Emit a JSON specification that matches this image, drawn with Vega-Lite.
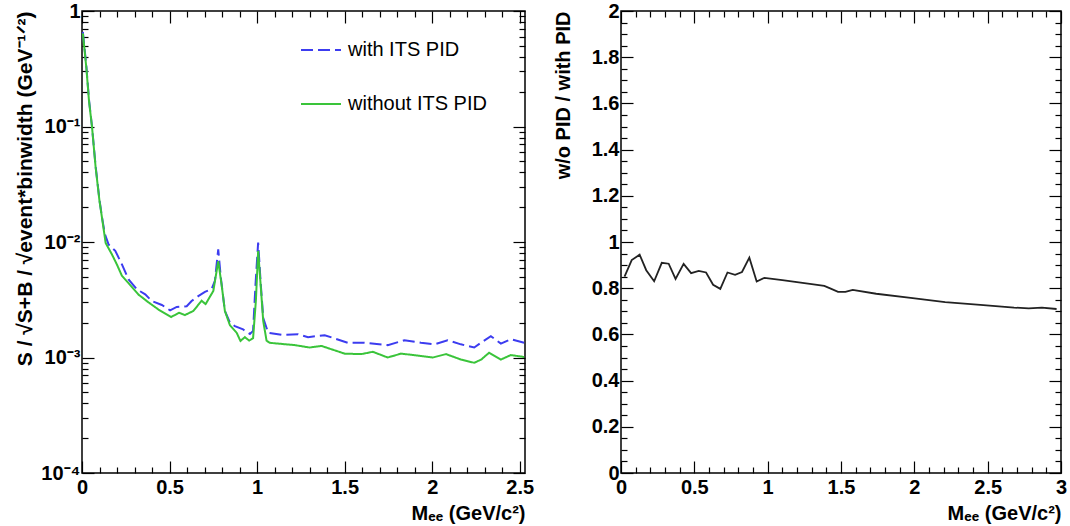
{
  "$schema": "https://vega.github.io/schema/vega-lite/v6.json",
  "padding": {"left": 14, "top": 0, "right": 5, "bottom": 0},
  "datasets": {
    "left": [
      {"m": 0.005, "v": 0.66, "series": "with ITS PID"},
      {"m": 0.025, "v": 0.33, "series": "with ITS PID"},
      {"m": 0.04, "v": 0.17, "series": "with ITS PID"},
      {"m": 0.057, "v": 0.1, "series": "with ITS PID"},
      {"m": 0.078, "v": 0.045, "series": "with ITS PID"},
      {"m": 0.1, "v": 0.023, "series": "with ITS PID"},
      {"m": 0.114, "v": 0.0165, "series": "with ITS PID"},
      {"m": 0.13, "v": 0.0118, "series": "with ITS PID"},
      {"m": 0.152, "v": 0.0095, "series": "with ITS PID"},
      {"m": 0.19, "v": 0.0084, "series": "with ITS PID"},
      {"m": 0.228, "v": 0.0064, "series": "with ITS PID"},
      {"m": 0.266, "v": 0.00475, "series": "with ITS PID"},
      {"m": 0.313, "v": 0.0039, "series": "with ITS PID"},
      {"m": 0.361, "v": 0.00352, "series": "with ITS PID"},
      {"m": 0.399, "v": 0.00308, "series": "with ITS PID"},
      {"m": 0.456, "v": 0.00285, "series": "with ITS PID"},
      {"m": 0.503, "v": 0.00256, "series": "with ITS PID"},
      {"m": 0.541, "v": 0.00274, "series": "with ITS PID"},
      {"m": 0.598, "v": 0.00278, "series": "with ITS PID"},
      {"m": 0.626, "v": 0.00308, "series": "with ITS PID"},
      {"m": 0.664, "v": 0.0034, "series": "with ITS PID"},
      {"m": 0.702, "v": 0.0037, "series": "with ITS PID"},
      {"m": 0.74, "v": 0.0039, "series": "with ITS PID"},
      {"m": 0.759, "v": 0.0046, "series": "with ITS PID"},
      {"m": 0.778, "v": 0.00865, "series": "with ITS PID"},
      {"m": 0.793, "v": 0.0049, "series": "with ITS PID"},
      {"m": 0.816, "v": 0.00253, "series": "with ITS PID"},
      {"m": 0.845, "v": 0.002, "series": "with ITS PID"},
      {"m": 0.873, "v": 0.00187, "series": "with ITS PID"},
      {"m": 0.92, "v": 0.00175, "series": "with ITS PID"},
      {"m": 0.959, "v": 0.0016, "series": "with ITS PID"},
      {"m": 0.977, "v": 0.0017, "series": "with ITS PID"},
      {"m": 0.991, "v": 0.0043, "series": "with ITS PID"},
      {"m": 1.006, "v": 0.0099, "series": "with ITS PID"},
      {"m": 1.021, "v": 0.0043, "series": "with ITS PID"},
      {"m": 1.035, "v": 0.0022, "series": "with ITS PID"},
      {"m": 1.063, "v": 0.00164, "series": "with ITS PID"},
      {"m": 1.139, "v": 0.00157, "series": "with ITS PID"},
      {"m": 1.234, "v": 0.00159, "series": "with ITS PID"},
      {"m": 1.291, "v": 0.0015, "series": "with ITS PID"},
      {"m": 1.386, "v": 0.00156, "series": "with ITS PID"},
      {"m": 1.519, "v": 0.00134, "series": "with ITS PID"},
      {"m": 1.613, "v": 0.00134, "series": "with ITS PID"},
      {"m": 1.746, "v": 0.00128, "series": "with ITS PID"},
      {"m": 1.841, "v": 0.00141, "series": "with ITS PID"},
      {"m": 1.936, "v": 0.00134, "series": "with ITS PID"},
      {"m": 2.012, "v": 0.0013, "series": "with ITS PID"},
      {"m": 2.088, "v": 0.00141, "series": "with ITS PID"},
      {"m": 2.164, "v": 0.0013, "series": "with ITS PID"},
      {"m": 2.24, "v": 0.00122, "series": "with ITS PID"},
      {"m": 2.287, "v": 0.00137, "series": "with ITS PID"},
      {"m": 2.335, "v": 0.00153, "series": "with ITS PID"},
      {"m": 2.392, "v": 0.00132, "series": "with ITS PID"},
      {"m": 2.449, "v": 0.00144, "series": "with ITS PID"},
      {"m": 2.525, "v": 0.00134, "series": "with ITS PID"},
      {"m": 0.005, "v": 0.64, "series": "without ITS PID"},
      {"m": 0.025, "v": 0.32, "series": "without ITS PID"},
      {"m": 0.04, "v": 0.166, "series": "without ITS PID"},
      {"m": 0.057, "v": 0.1, "series": "without ITS PID"},
      {"m": 0.078, "v": 0.044, "series": "without ITS PID"},
      {"m": 0.1, "v": 0.0226, "series": "without ITS PID"},
      {"m": 0.114, "v": 0.0163, "series": "without ITS PID"},
      {"m": 0.135, "v": 0.0098, "series": "without ITS PID"},
      {"m": 0.171, "v": 0.0078, "series": "without ITS PID"},
      {"m": 0.199, "v": 0.0064, "series": "without ITS PID"},
      {"m": 0.228, "v": 0.0051, "series": "without ITS PID"},
      {"m": 0.266, "v": 0.0044, "series": "without ITS PID"},
      {"m": 0.323, "v": 0.0035, "series": "without ITS PID"},
      {"m": 0.38, "v": 0.003, "series": "without ITS PID"},
      {"m": 0.437, "v": 0.0026, "series": "without ITS PID"},
      {"m": 0.509, "v": 0.00224, "series": "without ITS PID"},
      {"m": 0.554, "v": 0.00244, "series": "without ITS PID"},
      {"m": 0.588, "v": 0.00233, "series": "without ITS PID"},
      {"m": 0.636, "v": 0.00253, "series": "without ITS PID"},
      {"m": 0.683, "v": 0.0031, "series": "without ITS PID"},
      {"m": 0.706, "v": 0.0029, "series": "without ITS PID"},
      {"m": 0.75, "v": 0.00377, "series": "without ITS PID"},
      {"m": 0.778, "v": 0.0068, "series": "without ITS PID"},
      {"m": 0.797, "v": 0.0043, "series": "without ITS PID"},
      {"m": 0.816, "v": 0.00253, "series": "without ITS PID"},
      {"m": 0.845, "v": 0.0019, "series": "without ITS PID"},
      {"m": 0.883, "v": 0.00164, "series": "without ITS PID"},
      {"m": 0.905, "v": 0.00139, "series": "without ITS PID"},
      {"m": 0.93, "v": 0.0015, "series": "without ITS PID"},
      {"m": 0.955, "v": 0.0014, "series": "without ITS PID"},
      {"m": 0.977, "v": 0.00147, "series": "without ITS PID"},
      {"m": 0.993, "v": 0.0031, "series": "without ITS PID"},
      {"m": 1.006, "v": 0.0084, "series": "without ITS PID"},
      {"m": 1.02, "v": 0.0043, "series": "without ITS PID"},
      {"m": 1.035, "v": 0.00207, "series": "without ITS PID"},
      {"m": 1.054, "v": 0.0014, "series": "without ITS PID"},
      {"m": 1.072, "v": 0.00134, "series": "without ITS PID"},
      {"m": 1.215, "v": 0.00128, "series": "without ITS PID"},
      {"m": 1.3, "v": 0.00122, "series": "without ITS PID"},
      {"m": 1.367, "v": 0.00126, "series": "without ITS PID"},
      {"m": 1.5, "v": 0.00108, "series": "without ITS PID"},
      {"m": 1.595, "v": 0.00107, "series": "without ITS PID"},
      {"m": 1.661, "v": 0.00112, "series": "without ITS PID"},
      {"m": 1.746, "v": 0.001, "series": "without ITS PID"},
      {"m": 1.822, "v": 0.00108, "series": "without ITS PID"},
      {"m": 1.917, "v": 0.00104, "series": "without ITS PID"},
      {"m": 2.003, "v": 0.001, "series": "without ITS PID"},
      {"m": 2.079, "v": 0.00107, "series": "without ITS PID"},
      {"m": 2.164, "v": 0.00096, "series": "without ITS PID"},
      {"m": 2.24, "v": 0.0009, "series": "without ITS PID"},
      {"m": 2.28, "v": 0.00096, "series": "without ITS PID"},
      {"m": 2.325, "v": 0.0011, "series": "without ITS PID"},
      {"m": 2.392, "v": 0.00096, "series": "without ITS PID"},
      {"m": 2.449, "v": 0.00105, "series": "without ITS PID"},
      {"m": 2.525, "v": 0.00101, "series": "without ITS PID"}
    ],
    "right": [
      {"m": 0.024, "r": 0.85}, {"m": 0.073, "r": 0.922}, {"m": 0.127, "r": 0.945},
      {"m": 0.172, "r": 0.878}, {"m": 0.226, "r": 0.83}, {"m": 0.278, "r": 0.91},
      {"m": 0.325, "r": 0.906}, {"m": 0.372, "r": 0.84}, {"m": 0.427, "r": 0.905},
      {"m": 0.478, "r": 0.865}, {"m": 0.53, "r": 0.875}, {"m": 0.58, "r": 0.868},
      {"m": 0.628, "r": 0.815}, {"m": 0.677, "r": 0.797}, {"m": 0.726, "r": 0.868},
      {"m": 0.778, "r": 0.858}, {"m": 0.825, "r": 0.87}, {"m": 0.875, "r": 0.932},
      {"m": 0.925, "r": 0.829}, {"m": 0.978, "r": 0.845}, {"m": 1.1, "r": 0.835},
      {"m": 1.2, "r": 0.826}, {"m": 1.3, "r": 0.818}, {"m": 1.386, "r": 0.81},
      {"m": 1.43, "r": 0.798}, {"m": 1.48, "r": 0.784}, {"m": 1.53, "r": 0.784},
      {"m": 1.58, "r": 0.793}, {"m": 1.74, "r": 0.776}, {"m": 1.975, "r": 0.758},
      {"m": 2.21, "r": 0.74}, {"m": 2.45, "r": 0.728}, {"m": 2.68, "r": 0.716},
      {"m": 2.78, "r": 0.713}, {"m": 2.87, "r": 0.716}, {"m": 2.97, "r": 0.71}
    ]
  },
  "config": {
    "view": {"stroke": "black", "strokeWidth": 1.5},
    "axis": {
      "domain": false, "grid": false, "tickColor": "black", "tickWidth": 1.2,
      "labelFont": "Liberation Sans", "labelFontWeight": "bold", "labelFontSize": 20, "labelColor": "black",
      "titleFont": "Liberation Sans", "titleFontWeight": "bold", "titleFontSize": 20, "titleColor": "black",
      "labelOverlap": false, "labelFlush": false, "labelBound": false
    },
    "legend": {
      "labelFont": "Liberation Sans", "labelFontSize": 20, "labelColor": "black", "labelFontWeight": "normal"
    }
  },
  "spacing": 17,
  "hconcat": [
    {
      "width": 443,
      "height": 462,
      "data": {"name": "left"},
      "layer": [
        {
          "transform": [{"filter": "datum.series == 'with ITS PID'"}],
          "mark": {"type": "line", "strokeWidth": 2},
          "encoding": {
            "x": {
              "field": "m", "type": "quantitative",
              "scale": {"domain": [0, 2.53], "nice": false, "zero": false},
              "axis": {
                "orient": "bottom",
                "values": [0,0.1,0.2,0.3,0.4,0.5,0.6,0.7,0.8,0.9,1,1.1,1.2,1.3,1.4,1.5,1.6,1.7,1.8,1.9,2,2.1,2.2,2.3,2.4,2.5],
                "labelExpr": "abs(datum.value*2-round(datum.value*2))<0.001 ? format(datum.value,'~g') : ''",
                "tickSize": {"condition": {"test": "abs(datum.value*2-round(datum.value*2))<0.001", "value": -12}, "value": -6},
                "labelPadding": 16,
                "title": "Mₑₑ (GeV/c²)", "titleAnchor": "end", "titlePadding": 0
              }
            },
            "y": {
              "field": "v", "type": "quantitative",
              "scale": {"type": "log", "domain": [0.0001, 1], "nice": false},
              "axis": {
                "orient": "left",
                "values": [0.0001,0.0002,0.0003,0.0004,0.0005,0.0006,0.0007,0.0008,0.0009,0.001,0.002,0.003,0.004,0.005,0.006,0.007,0.008,0.009,0.01,0.02,0.03,0.04,0.05,0.06,0.07,0.08,0.09,0.1,0.2,0.3,0.4,0.5,0.6,0.7,0.8,0.9,1],
                "labelExpr": "datum.value==1 ? '1' : datum.value==0.1 ? '10⁻¹' : datum.value==0.01 ? '10⁻²' : datum.value==0.001 ? '10⁻³' : datum.value==0.0001 ? '10⁻⁴' : ''",
                "tickSize": {"condition": {"test": "datum.value==1||datum.value==0.1||datum.value==0.01||datum.value==0.001||datum.value==0.0001", "value": -12}, "value": -6},
                "labelPadding": 14,
                "title": "S / √S+B / √event*binwidth (GeV⁻¹ᐟ²)", "titleAnchor": "end", "titlePadding": 5, "titleFontSize": 21
              }
            },
            "color": {
              "field": "series", "type": "nominal",
              "scale": {"domain": ["with ITS PID", "without ITS PID"], "range": ["#3c3cf0", "#3ac43a"]},
              "legend": {"orient": "none", "legendX": 218, "legendY": 18, "title": null, "symbolType": "stroke", "symbolSize": 1600, "symbolStrokeWidth": 2, "rowPadding": 23, "labelOffset": 6}
            },
            "strokeDash": {
              "field": "series", "type": "nominal",
              "scale": {"domain": ["with ITS PID", "without ITS PID"], "range": [[12, 5], [1, 0]]},
              "legend": {"orient": "none", "legendX": 218, "legendY": 18, "title": null, "symbolType": "stroke", "symbolSize": 1600, "symbolStrokeWidth": 2, "rowPadding": 23, "labelOffset": 6}
            }
          }
        },
        {
          "transform": [{"filter": "datum.series == 'without ITS PID'"}],
          "mark": {"type": "line", "strokeWidth": 2},
          "encoding": {
            "x": {
              "field": "m", "type": "quantitative",
              "axis": {
                "orient": "top",
                "values": [0,0.1,0.2,0.3,0.4,0.5,0.6,0.7,0.8,0.9,1,1.1,1.2,1.3,1.4,1.5,1.6,1.7,1.8,1.9,2,2.1,2.2,2.3,2.4,2.5],
                "labels": false, "title": null,
                "tickSize": {"condition": {"test": "abs(datum.value*2-round(datum.value*2))<0.001", "value": -12}, "value": -6}
              }
            },
            "y": {
              "field": "v", "type": "quantitative",
              "axis": {
                "orient": "right",
                "values": [0.0001,0.0002,0.0003,0.0004,0.0005,0.0006,0.0007,0.0008,0.0009,0.001,0.002,0.003,0.004,0.005,0.006,0.007,0.008,0.009,0.01,0.02,0.03,0.04,0.05,0.06,0.07,0.08,0.09,0.1,0.2,0.3,0.4,0.5,0.6,0.7,0.8,0.9,1],
                "labels": false, "title": null,
                "tickSize": {"condition": {"test": "datum.value==1||datum.value==0.1||datum.value==0.01||datum.value==0.001||datum.value==0.0001", "value": -12}, "value": -6}
              }
            },
            "color": {
              "field": "series", "type": "nominal",
              "scale": {"domain": ["with ITS PID", "without ITS PID"], "range": ["#3c3cf0", "#3ac43a"]},
              "legend": {"orient": "none", "legendX": 218, "legendY": 18, "title": null, "symbolType": "stroke", "symbolSize": 1600, "symbolStrokeWidth": 2, "rowPadding": 23, "labelOffset": 6}
            },
            "strokeDash": {
              "field": "series", "type": "nominal",
              "scale": {"domain": ["with ITS PID", "without ITS PID"], "range": [[12, 5], [1, 0]]},
              "legend": {"orient": "none", "legendX": 218, "legendY": 18, "title": null, "symbolType": "stroke", "symbolSize": 1600, "symbolStrokeWidth": 2, "rowPadding": 23, "labelOffset": 6}
            }
          }
        }
      ],
      "resolve": {"axis": {"x": "independent", "y": "independent"}}
    },
    {
      "width": 440,
      "height": 462,
      "data": {"name": "right"},
      "layer": [
        {
          "mark": {"type": "line", "strokeWidth": 1.8, "color": "#222222"},
          "encoding": {
            "x": {
              "field": "m", "type": "quantitative",
              "scale": {"domain": [0, 3], "nice": false, "zero": false},
              "axis": {
                "orient": "bottom",
                "values": [0,0.1,0.2,0.3,0.4,0.5,0.6,0.7,0.8,0.9,1,1.1,1.2,1.3,1.4,1.5,1.6,1.7,1.8,1.9,2,2.1,2.2,2.3,2.4,2.5,2.6,2.7,2.8,2.9,3],
                "labelExpr": "abs(datum.value*2-round(datum.value*2))<0.001 ? format(datum.value,'~g') : ''",
                "tickSize": {"condition": {"test": "abs(datum.value*2-round(datum.value*2))<0.001", "value": -12}, "value": -6},
                "labelPadding": 16,
                "title": "Mₑₑ (GeV/c²)", "titleAnchor": "end", "titlePadding": 0
              }
            },
            "y": {
              "field": "r", "type": "quantitative",
              "scale": {"domain": [0, 2], "nice": false, "zero": false},
              "axis": {
                "orient": "left",
                "values": [0,0.05,0.1,0.15,0.2,0.25,0.3,0.35,0.4,0.45,0.5,0.55,0.6,0.65,0.7,0.75,0.8,0.85,0.9,0.95,1,1.05,1.1,1.15,1.2,1.25,1.3,1.35,1.4,1.45,1.5,1.55,1.6,1.65,1.7,1.75,1.8,1.85,1.9,1.95,2],
                "labelExpr": "abs(datum.value*5-round(datum.value*5))<0.001 ? format(datum.value,'~g') : ''",
                "tickSize": {"condition": {"test": "abs(datum.value*5-round(datum.value*5))<0.001", "value": -12}, "value": -6},
                "labelPadding": 14,
                "title": "w/o PID / with PID", "titleAnchor": "end", "titlePadding": 18
              }
            }
          }
        },
        {
          "mark": {"type": "line", "strokeOpacity": 0},
          "encoding": {
            "x": {
              "field": "m", "type": "quantitative",
              "axis": {
                "orient": "top",
                "values": [0,0.1,0.2,0.3,0.4,0.5,0.6,0.7,0.8,0.9,1,1.1,1.2,1.3,1.4,1.5,1.6,1.7,1.8,1.9,2,2.1,2.2,2.3,2.4,2.5,2.6,2.7,2.8,2.9,3],
                "labels": false, "title": null,
                "tickSize": {"condition": {"test": "abs(datum.value*2-round(datum.value*2))<0.001", "value": -12}, "value": -6}
              }
            },
            "y": {
              "field": "r", "type": "quantitative",
              "axis": {
                "orient": "right",
                "values": [0,0.05,0.1,0.15,0.2,0.25,0.3,0.35,0.4,0.45,0.5,0.55,0.6,0.65,0.7,0.75,0.8,0.85,0.9,0.95,1,1.05,1.1,1.15,1.2,1.25,1.3,1.35,1.4,1.45,1.5,1.55,1.6,1.65,1.7,1.75,1.8,1.85,1.9,1.95,2],
                "labels": false, "title": null,
                "tickSize": {"condition": {"test": "abs(datum.value*5-round(datum.value*5))<0.001", "value": -12}, "value": -6}
              }
            }
          }
        }
      ],
      "resolve": {"axis": {"x": "independent", "y": "independent"}}
    }
  ]
}
